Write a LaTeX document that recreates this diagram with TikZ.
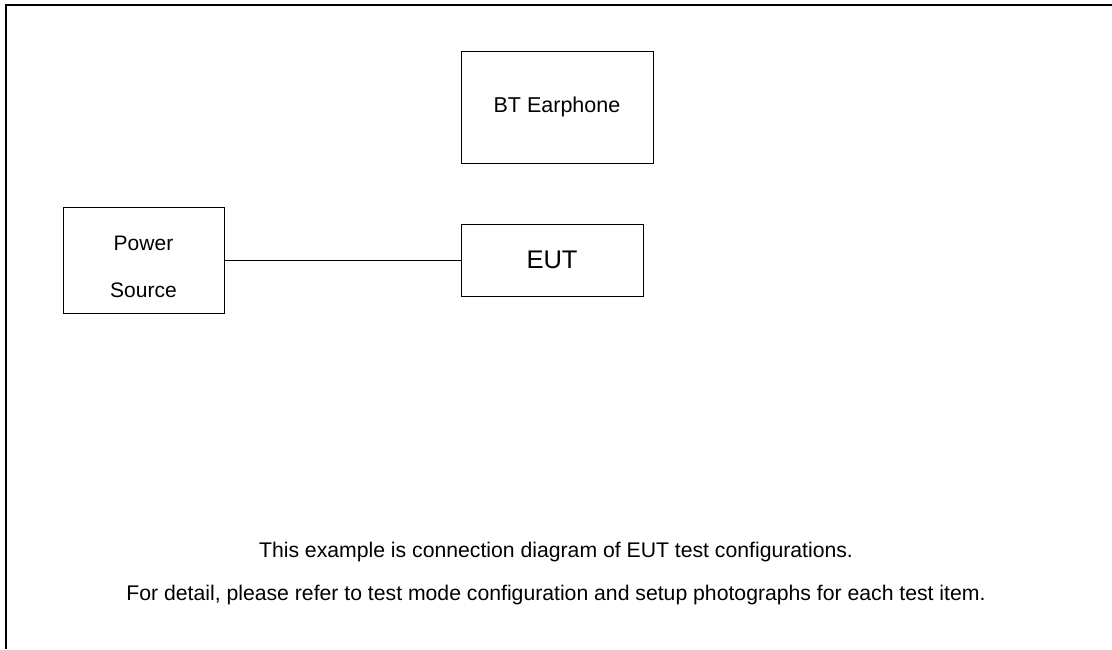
\documentclass[tikz,border=0pt]{standalone}
\usepackage{fontspec}
\setmainfont{Liberation Sans}
\begin{document}
\begin{tikzpicture}[x=1pt,y=-1pt,
  box/.style={draw=black,line width=1pt,inner sep=0pt,rectangle},
  lbl/.style={inner sep=0pt,align=center}]
\useasboundingbox (0,0) rectangle (1112,649);
\draw[line width=2pt] (6,649) -- (6,5) -- (1112,5);
\node[box,minimum width=192pt,minimum height=112pt] (bt) at (557,107)
  {\fontsize{21.5}{26}\selectfont BT Earphone};
\node[box,minimum width=161pt,minimum height=106pt] (ps) at (143.5,260) {};
\node[lbl,anchor=base] (psa) at (143.5,250) {\fontsize{21}{26}\selectfont Power};
\node[lbl,anchor=base] (psb) at (143.5,297) {\fontsize{21}{26}\selectfont Source};
\node[box,minimum width=182pt,minimum height=72pt] (eut) at (552,260)
  {\fontsize{25.5}{30}\selectfont EUT};
\draw[line width=1pt] (ps.east) -- (eut.west);
\node[lbl,anchor=base] (t1) at (556,557) {\fontsize{21.2}{26}\selectfont This example is connection diagram of EUT test configurations.};
\node[lbl,anchor=base] (t2) at (556,600) {\fontsize{21.2}{26}\selectfont For detail, please refer to test mode configuration and setup photographs for each test item.};
\end{tikzpicture}
\end{document}
